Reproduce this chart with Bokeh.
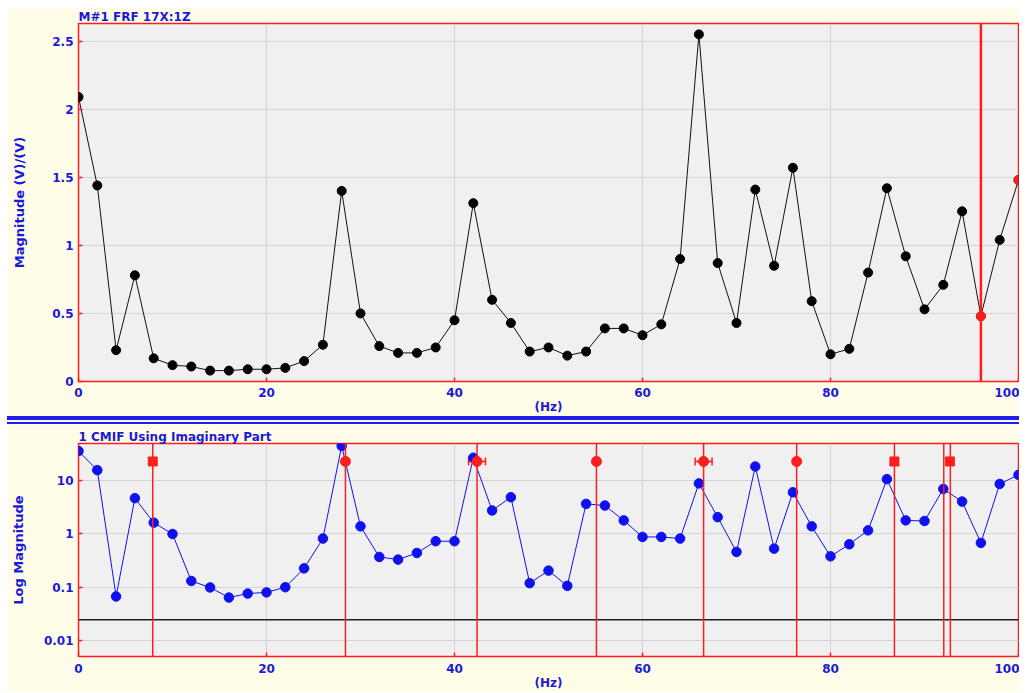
from bokeh.plotting import figure
from bokeh.models import (Range1d, FixedTicker, NumeralTickFormatter, Span, Div,
                          Whisker, TeeHead, ColumnDataSource)
from bokeh.layouts import column
from bokeh.embed import file_html
from bokeh.resources import INLINE

# ---------------- data ----------------
freq = [0, 2, 4, 6, 8, 10, 12, 14, 16, 18, 20, 22, 24, 26, 28, 30, 32, 34, 36, 38,
        40, 42, 44, 46, 48, 50, 52, 54, 56, 58, 60, 62, 64, 66, 68, 70, 72, 74, 76, 78,
        80, 82, 84, 86, 88, 90, 92, 94, 96, 98, 100]

frf_mag = [2.09, 1.44, 0.23, 0.78, 0.17, 0.12, 0.11, 0.08, 0.08, 0.09, 0.09, 0.10,
           0.15, 0.27, 1.40, 0.50, 0.26, 0.21, 0.21, 0.25, 0.45, 1.31, 0.60, 0.43,
           0.22, 0.25, 0.19, 0.22, 0.39, 0.39, 0.34, 0.42, 0.90, 2.55, 0.87, 0.43,
           1.41, 0.85, 1.57, 0.59, 0.20, 0.24, 0.80, 1.42, 0.92, 0.53, 0.71, 1.25,
           0.48, 1.04, 1.48]

cmif = [36.0, 15.8, 0.067, 4.7, 1.63, 1.0, 0.131, 0.099, 0.064, 0.076, 0.080, 0.10,
        0.226, 0.82, 45.0, 1.39, 0.37, 0.33, 0.44, 0.73, 0.73, 27.0, 2.76, 4.9,
        0.119, 0.205, 0.106, 3.67, 3.42, 1.8, 0.88, 0.88, 0.82, 8.9, 2.07, 0.46,
        18.5, 0.53, 6.06, 1.39, 0.38, 0.64, 1.17, 10.7, 1.8, 1.75, 7.0, 4.06,
        0.68, 8.7, 12.9]

top_cursor_freq = [96]
top_marked_freq = [96, 100]

cursor_freq = [7.9, 28.4, 42.4, 55.1, 66.5, 76.4, 86.8, 92.05, 92.75]
peak_freq = [7.9, 28.4, 42.4, 55.1, 66.5, 76.4, 86.8, 92.7]
peak_shape = ["square", "circle", "circle", "circle", "circle", "circle", "square", "square"]
peak_level = [23, 23, 23, 23, 23, 23, 23, 23]
peak_halfwidth = [0, 0, 0.9, 0, 0.9, 0, 0, 0]
threshold = [0.0245]

x_ticks = [0, 20, 40, 60, 80, 100]
top_y_ticks = [0, 0.5, 1, 1.5, 2, 2.5]
log_y_ticks = [0.01, 0.1, 1, 10]

# ---------------- styling ----------------
CREAM = "#FFFDE8"
FRAME_BG = "#F0F0F0"
GRID = "#D4D4D4"
RED = "#FF1E1E"
BLUE = "#1010F0"
TXT = "#1A1AD8"
FONT = "DejaVu Sans"


def base_fig(height, min_top, min_bottom, y_range, y_axis_type, title, ylabel, ylabel_standoff):
    p = figure(width=1012, height=height, x_range=Range1d(0, 100), y_range=y_range,
               y_axis_type=y_axis_type, output_backend="svg", toolbar_location=None,
               min_border_left=71, min_border_right=1, min_border_top=min_top,
               min_border_bottom=min_bottom, title=title)
    p.background_fill_color = FRAME_BG
    p.border_fill_color = CREAM
    p.outline_line_color = RED
    p.outline_line_width = 1.5
    p.title.text_color = TXT
    p.title.text_font = FONT
    p.title.text_font_size = "12px"
    p.title.text_font_style = "bold"
    p.title.align = "left"
    p.title.standoff = 0
    p.title.offset = 0
    for ax in (p.xaxis, p.yaxis):
        ax.axis_line_color = None
        ax.major_tick_in = 4
        ax.major_tick_out = 0
        ax.major_tick_line_color = RED
        ax.major_tick_line_width = 1.5
        ax.minor_tick_line_color = None
        ax.major_label_text_color = TXT
        ax.major_label_text_font = FONT
        ax.major_label_text_font_size = "12px"
        ax.major_label_text_font_style = "bold"
        ax.axis_label_text_color = TXT
        ax.axis_label_text_font = FONT
        ax.axis_label_text_font_style = "bold"
    p.xaxis.axis_label_text_font_size = "12px"
    p.yaxis.axis_label_text_font_size = "13px"
    p.xaxis.ticker = FixedTicker(ticks=x_ticks)
    p.xaxis.axis_label = "(Hz)"
    p.xaxis.axis_label_standoff = 0
    p.xaxis.major_label_standoff = 6
    p.yaxis.major_label_standoff = 5
    p.yaxis.axis_label = ylabel
    p.yaxis.axis_label_standoff = ylabel_standoff
    p.xgrid.grid_line_color = GRID
    p.ygrid.grid_line_color = GRID
    p.xgrid.grid_line_width = 1
    p.ygrid.grid_line_width = 1
    return p


# ---------------- top: FRF magnitude ----------------
p1 = base_fig(409, 16, 34, Range1d(0, 2.63), "linear", "M#1 FRF 17X:1Z",
              "Magnitude (V)/(V)", 22)
p1.yaxis.ticker = FixedTicker(ticks=top_y_ticks)
p1.yaxis.formatter = NumeralTickFormatter(format="0.[0]")

p1.line(freq, frf_mag, line_color="#101010", line_width=1)
p1.scatter(freq, frf_mag, marker="circle", size=9, fill_color="black", line_color="black")
for f in top_cursor_freq:
    p1.add_layout(Span(location=f, dimension="height", line_color=RED, line_width=2.5))
top_marked_mag = [frf_mag[freq.index(f)] for f in top_marked_freq]
p1.scatter(top_marked_freq, top_marked_mag, marker="circle", size=9,
           fill_color=RED, line_color=RED)

# ---------------- separator ----------------
sep = Div(text="", width=1012, height=8, margin=0,
          styles={"background-color": CREAM, "border-top": "4px solid #1E1EF0",
                  "border-bottom": "2px solid #1E1EF0", "box-sizing": "border-box"})

# ---------------- bottom: CMIF ----------------
p2 = base_fig(268, 19, 36, Range1d(0.005, 50), "log", "1 CMIF Using Imaginary Part",
              "Log Magnitude", 15)
p2.yaxis.ticker = FixedTicker(ticks=log_y_ticks)
p2.yaxis.formatter = NumeralTickFormatter(format="0.[00]")
p2.xaxis.major_label_standoff = 7

for t in threshold:
    p2.add_layout(Span(location=t, dimension="width", line_color="#202020", line_width=1.5))
for f in cursor_freq:
    p2.add_layout(Span(location=f, dimension="height", line_color=RED, line_width=1.5))

p2.line(freq, cmif, line_color=BLUE, line_width=1)
p2.scatter(freq, cmif, marker="circle", size=9.5, fill_color=BLUE, line_color=BLUE)

for shape in ("square", "circle"):
    xs = [f for f, s in zip(peak_freq, peak_shape) if s == shape]
    ys = [v for v, s in zip(peak_level, peak_shape) if s == shape]
    p2.scatter(xs, ys, marker=shape, size=9 if shape == "square" else 10,
               fill_color=RED, line_color=RED)

wsrc = ColumnDataSource(dict(
    base=[v for v, h in zip(peak_level, peak_halfwidth) if h > 0],
    lower=[f - h for f, h in zip(peak_freq, peak_halfwidth) if h > 0],
    upper=[f + h for f, h in zip(peak_freq, peak_halfwidth) if h > 0],
))
p2.add_layout(Whisker(base="base", lower="lower", upper="upper", dimension="width",
                      source=wsrc, line_color=RED, line_width=1.5,
                      lower_head=TeeHead(size=8, line_color=RED, line_width=1.5),
                      upper_head=TeeHead(size=8, line_color=RED, line_width=1.5)))

layout = column(p1, sep, p2, spacing=0, margin=(7, 0, 0, 7))

open("out.html", "w").write(file_html(layout, INLINE))
